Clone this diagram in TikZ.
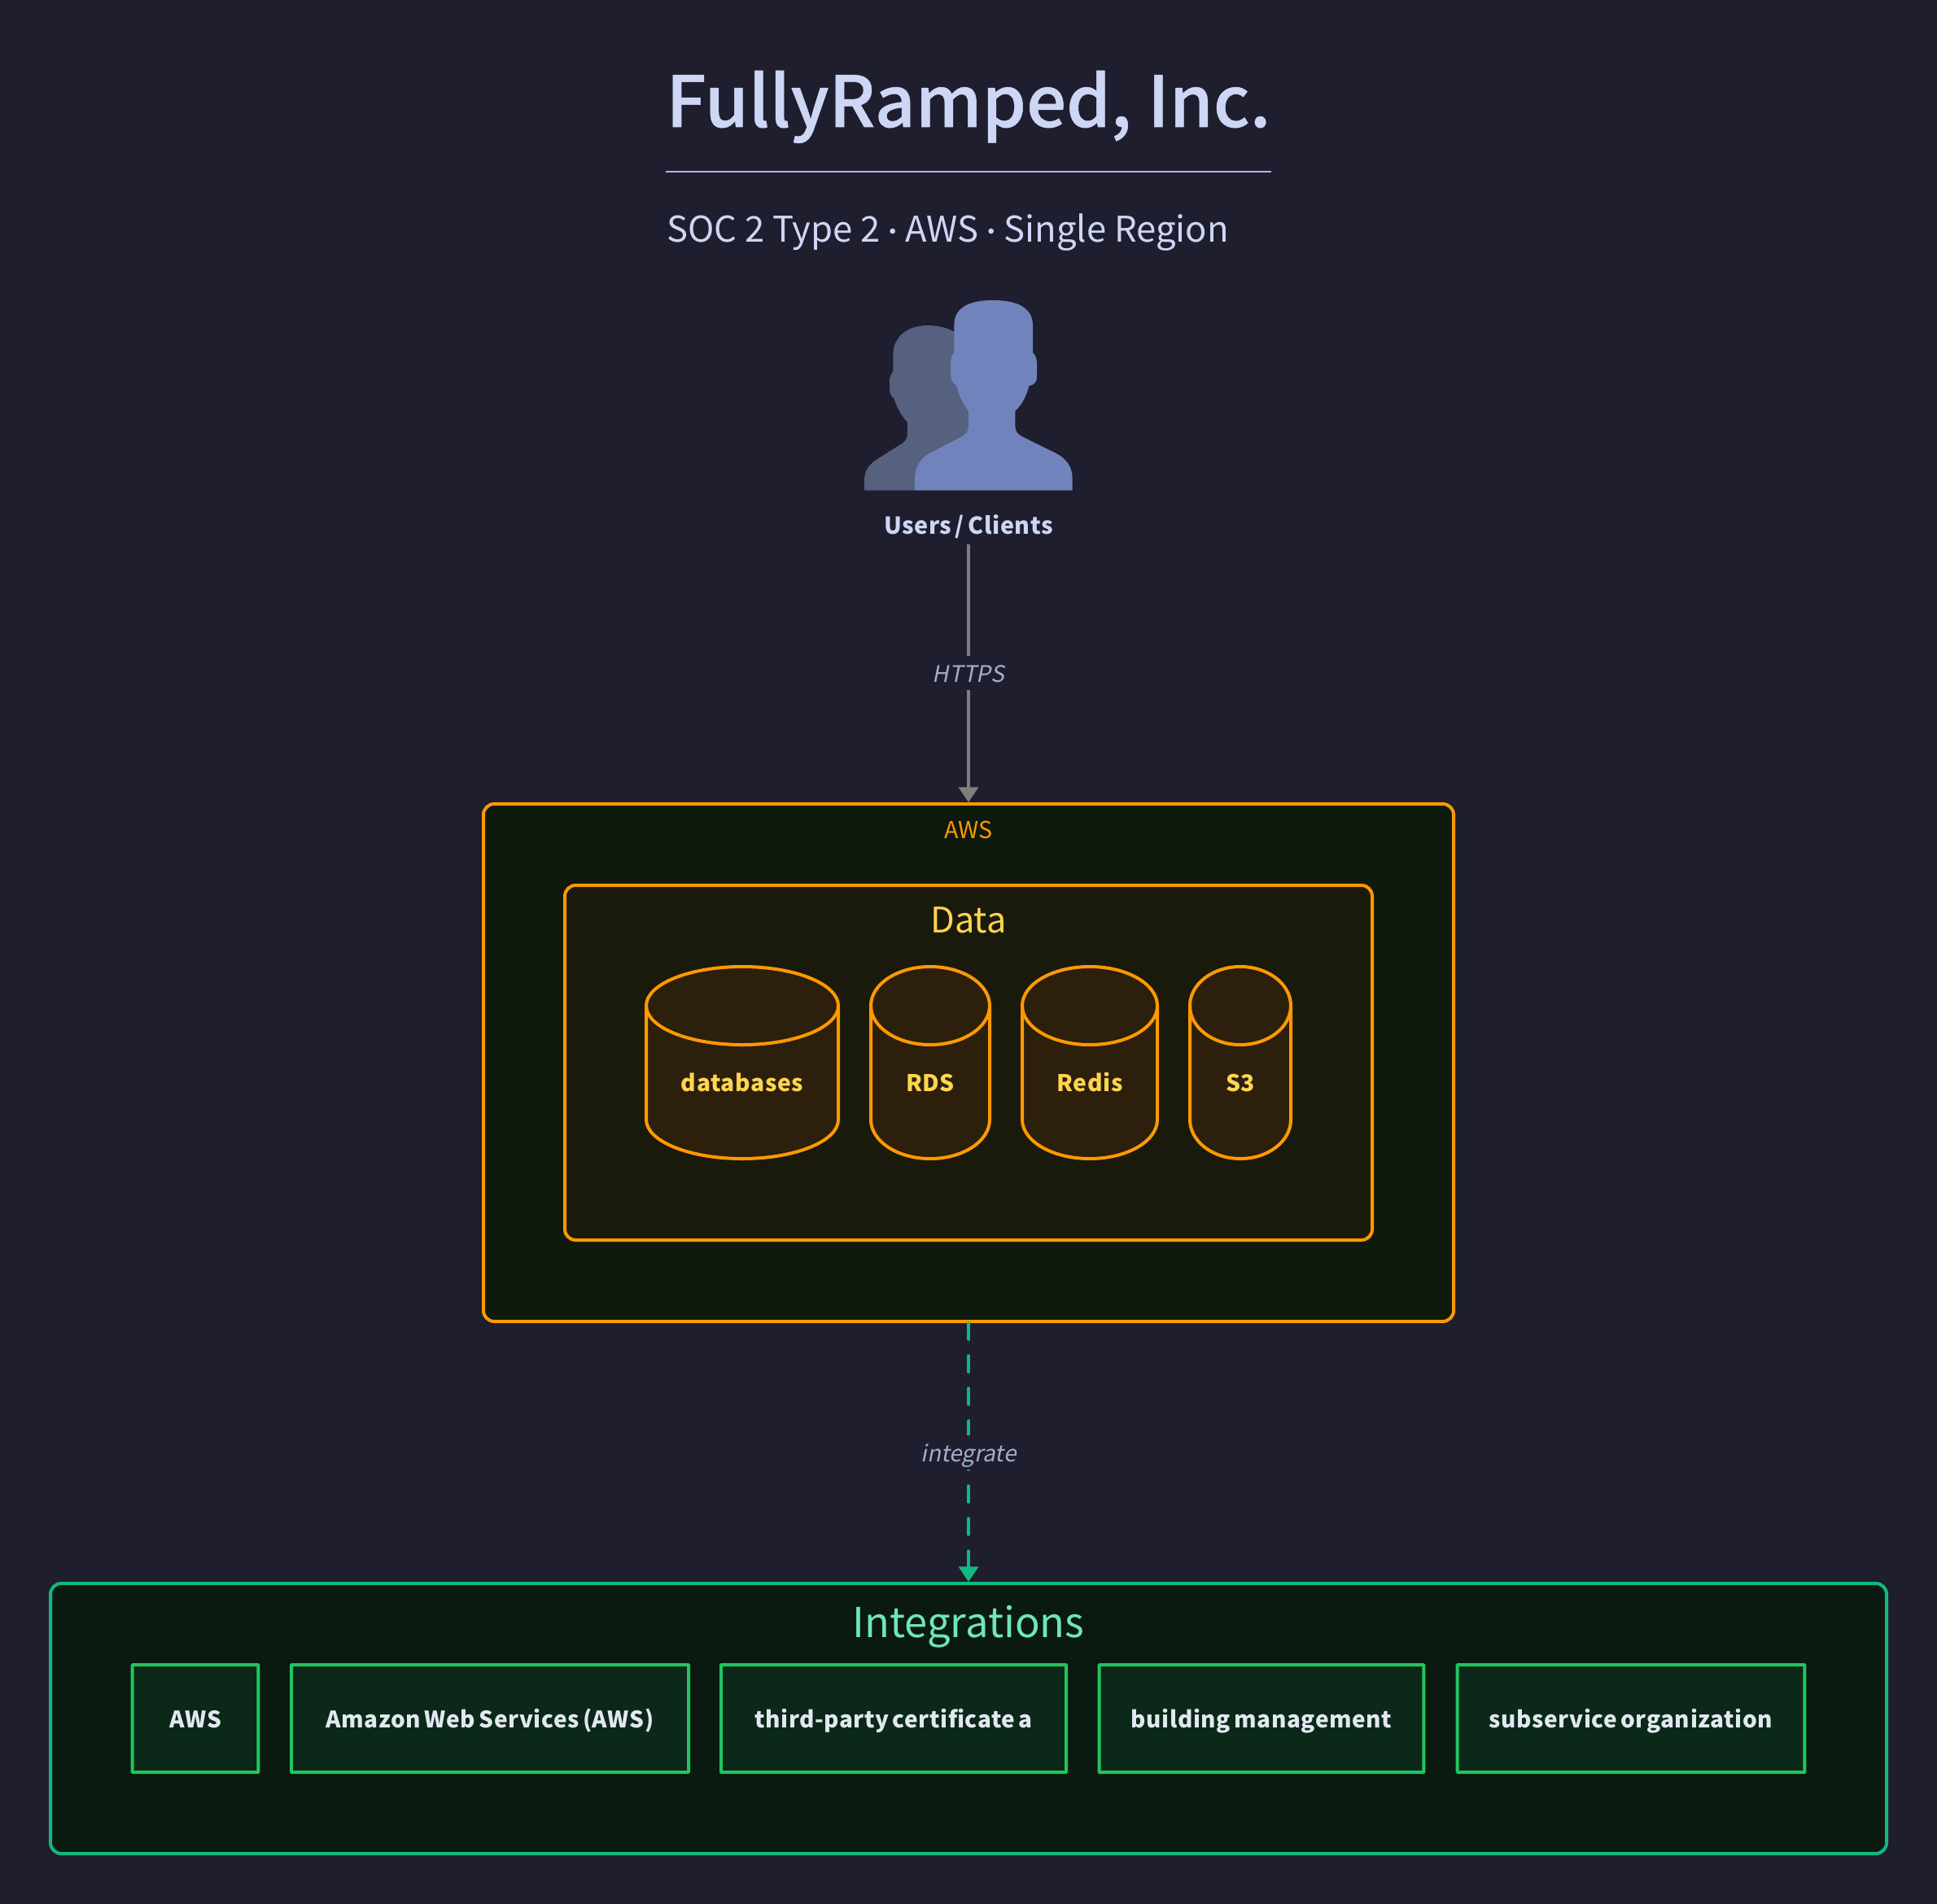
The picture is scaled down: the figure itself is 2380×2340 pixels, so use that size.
\documentclass[tikz,border=0pt]{standalone}
\usepackage{fontspec}
\usetikzlibrary{arrows.meta}
\setmainfont{Noto Sans CJK JP}[AutoFakeSlant=0.2,BoldFeatures={LetterSpace=2.2,WordSpace=0.62}]
\newfontfamily\headfont{Noto Sans CJK JP Medium}[FakeBold=0.6]
\newfontfamily\dotfont{Lato}
\definecolor{pagebg}{HTML}{1E1E2E}
\definecolor{titlecol}{HTML}{CDD6F4}
\definecolor{rulecol}{HTML}{CBA6F7}
\definecolor{awsfill}{HTML}{0F1A0C}
\definecolor{awsline}{HTML}{FF9900}
\definecolor{datafill}{HTML}{1A1A0C}
\definecolor{canfill}{HTML}{2C1F0C}
\definecolor{datatext}{HTML}{FFD54F}
\definecolor{intfill}{HTML}{0A1A10}
\definecolor{intline}{HTML}{10B981}
\definecolor{intbox}{HTML}{22C55E}
\definecolor{intboxfill}{HTML}{0B2819}
\definecolor{inttext}{HTML}{E2E8F0}
\definecolor{inttitle}{HTML}{6EE7B7}
\definecolor{edgecol}{HTML}{7F7F7F}
\definecolor{edgetext}{HTML}{A6ADC8}
\definecolor{userfront}{HTML}{7183BD}
\definecolor{userback}{HTML}{56617F}
\tikzset{
  txt/.style={inner sep=0pt,anchor=base,align=center},
  groupbox/.style={draw,rounded corners=10pt,line width=3pt,inner sep=0pt},
  itembox/.style={draw=intbox,fill=intboxfill,line width=3pt,inner sep=0pt,
    minimum height=99pt,rounded corners=0.5pt},
  itemtext/.style={txt,text=inttext,font=\fontsize{21}{26}\selectfont\bfseries},
  cantext/.style={txt,text=datatext,font=\fontsize{21.2}{26}\selectfont\bfseries},
  canline/.style={draw=awsline,fill=canfill,line width=3pt},
  edgelabel/.style={inner sep=0pt,fill=pagebg,text=edgetext,text height=24pt,text depth=7.5pt,
    font=\fontsize{21}{26}\selectfont\itshape},
}
% one storage can: left, right, name, text
\newcommand{\storagecan}[4]{%
  \draw[canline] (#1,1236) -- (#1,1376)
    arc[start angle=180,end angle=0,x radius={(#2-#1)/2},y radius=48]
    -- (#2,1236)
    arc[start angle=0,end angle=-180,x radius={(#2-#1)/2},y radius=48] -- cycle;
  \draw[canline,fill=none] (#1,1236)
    arc[start angle=180,end angle=0,x radius={(#2-#1)/2},y radius=48];
  \node[cantext] (#3) at ({(#1+#2)/2},1341) {#4};
}
\begin{document}
\begin{tikzpicture}[x=0.75pt,y=-0.75pt]
  \useasboundingbox (0,0) rectangle (2380,2340);
  \fill[pagebg] (0,0) rectangle (2380,2340);

  % heading
  \node[txt,text=titlecol,font=\fontsize{65}{70}\selectfont\headfont] (title) at (1190,156) {FullyRamped, Inc.};
  \coordinate (ruleleft) at (818,211);
  \coordinate (ruleright) at (1562,211);
  \draw[rulecol,line width=1.5pt] (ruleleft) -- (ruleright);
  \node[txt,anchor=base west,text=titlecol,font=\fontsize{32.7}{42}\selectfont] (subtitle) at (819,297) {SOC 2 Type 2 {\dotfont·} AWS {\dotfont·} Single Region};

  % users
  \begin{scope}[shift={(1000,340)},x=0.25pt,y=-0.25pt]
    \fill[userback] (186,788) -- (186,750) .. controls (186,715) and (205,690) .. (235,672)
      -- (325,615) .. controls (340,605) and (345,595) .. (345,575) -- (345,537)
      .. controls (320,510) and (305,480) .. (295,448) .. controls (285,445) and (279,430) .. (279,405)
      -- (279,385) .. controls (279,370) and (285,358) .. (292,350) -- (292,290)
      .. controls (292,225) and (340,180) .. (420,180) .. controls (460,180) and (495,190) .. (520,205)
      -- (570,300) -- (570,600) -- (372,788) -- cycle;
    \fill[userfront] (372,788) -- (372,745) .. controls (372,700) and (395,670) .. (425,652)
      -- (545,590) .. controls (562,580) and (570,570) .. (570,550) -- (570,495)
      .. controls (550,470) and (533,435) .. (525,400) .. controls (510,395) and (504,375) .. (504,350)
      -- (504,320) .. controls (504,300) and (510,288) .. (517,280) -- (517,180)
      .. controls (517,115) and (570,87) .. (660,87) .. controls (750,87) and (807,115) .. (807,180)
      -- (807,280) .. controls (815,288) and (822,300) .. (822,320) -- (822,370)
      .. controls (822,390) and (810,400) .. (793,403) .. controls (785,435) and (770,470) .. (742,495)
      -- (742,550) .. controls (742,570) and (750,580) .. (768,590) -- (890,650)
      .. controls (930,670) and (953,700) .. (953,745) -- (953,788) -- cycle;
  \end{scope}
  \node[txt,text depth=9.75pt,text=titlecol,font=\fontsize{21.5}{26}\selectfont\bfseries] (users) at (1190,656) {Users / Clients};

  % aws group
  \node[groupbox,draw=awsline,fill=awsfill,minimum width=894pt,minimum height=477pt] (aws) at (1190,1306) {};
  \node[txt,text=awsline,font=\fontsize{21.5}{26}\selectfont] (awstitle) at (1190,1030) {AWS};
  \node[groupbox,draw=awsline,fill=datafill,minimum width=744pt,minimum height=327pt] (data) at (1190,1306) {};
  \node[txt,text=datatext,font=\fontsize{32.5}{38}\selectfont] (datatitle) at (1190,1146) {Data};
  \storagecan{794}{1030}{databases}{databases}
  \storagecan{1070}{1216}{rds}{RDS}
  \storagecan{1256}{1422}{redis}{Redis}
  \storagecan{1462}{1586}{sthree}{S3}

  % integrations group
  \node[groupbox,draw=intline,fill=intfill,minimum width=1692pt,minimum height=249pt] (integrations) at (1190,2112) {};
  \node[txt,text=inttitle,font=\fontsize{38}{44}\selectfont] (inttitle) at (1190,2012) {Integrations};
  \node[itembox,minimum width=116pt] (awsitem) at (240,2112) {};
  \node[itemtext] at (240,2123) {AWS};
  \node[itembox,minimum width=366pt] (amazon) at (602,2112) {};
  \node[itemtext] at (602,2123) {Amazon Web Services (AWS)};
  \node[itembox,minimum width=318pt] (certificate) at (1098,2112) {};
  \node[itemtext] at (1098,2123) {third-party certificate a};
  \node[itembox,minimum width=299pt] (building) at (1550,2112) {};
  \node[itemtext] at (1550,2123) {building management};
  \node[itembox,minimum width=320pt] (subservice) at (2004,2112) {};
  \node[itemtext] at (2004,2123) {subservice organization};

  % connectors
  \draw[edgecol,line width=2.7pt,-{Triangle[width=18pt,length=14pt]}] (users.south) -- (aws.north);
  \node[edgelabel] (https) at (1190,827) {HTTPS};
  \draw[intline,line width=2.7pt,line cap=round,dash pattern=on 15pt off 15pt,-{Triangle[width=18pt,length=14pt]}] (aws.south) -- (integrations.north);
  \node[edgelabel] (integrate) at (1190,1785) {integrate};
\end{tikzpicture}
\end{document}
